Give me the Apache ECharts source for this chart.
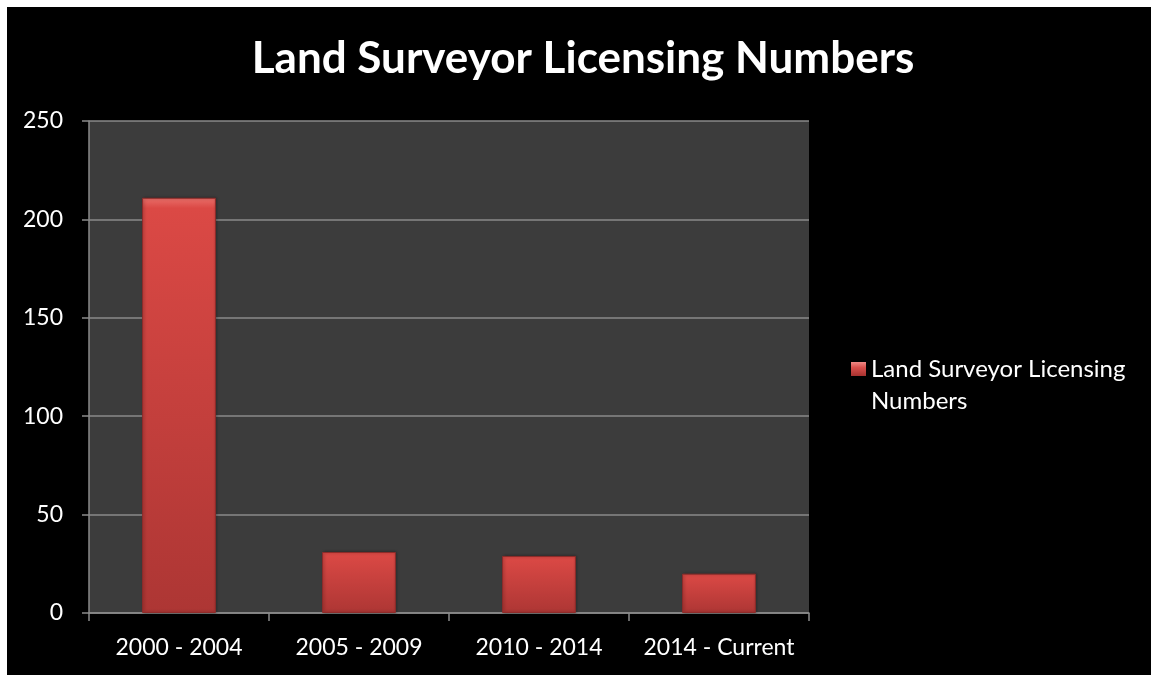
<!DOCTYPE html>
<html>
<head>
<meta charset="utf-8">
<title>Land Surveyor Licensing Numbers</title>
<script src="https://cdn.jsdelivr.net/npm/echarts@6/dist/echarts.min.js"></script>
<style>
  html, body { margin: 0; padding: 0; background: #ffffff; overflow: hidden; }
  #chart { position: absolute; left: 7px; top: 7px; width: 1160px; height: 680px; background: #000000; }
</style>
</head>
<body>
<div id="chart"></div>
<script>
// chart data
var titleText = "Land Surveyor Licensing Numbers";
var seriesName = "Land Surveyor Licensing Numbers";
var categories = ["2000 - 2004", "2005 - 2009", "2010 - 2014", "2014 - Current"];
var licenseCounts = [211, 31, 29, 20];
var yTicks = [0, 50, 100, 150, 200, 250];

var FONT = "Lato, 'Noto Sans', sans-serif";
var GRID_GRAY = "#8a8a8a";

// red bevelled bar look
var barFill = new echarts.graphic.LinearGradient(0, 0, 0, 1, [
  {offset: 0, color: "#ea6f6a"},
  {offset: 0.025, color: "#db4945"},
  {offset: 1, color: "#ad3634"}
]);
var legendFill = new echarts.graphic.LinearGradient(0, 0, 0, 1, [
  {offset: 0, color: "#f08a86"},
  {offset: 0.12, color: "#d9504c"},
  {offset: 0.3, color: "#a83230"},
  {offset: 1, color: "#a83230"}
]);

var chart = echarts.init(document.getElementById("chart"));

var options = {
  backgroundColor: "#000000",
  animation: false,
  textStyle: {fontFamily: FONT},
  title: {
    text: titleText,
    left: 571,
    textAlign: "center",
    top: 25,
    textStyle: {color: "#ffffff", fontFamily: FONT, fontWeight: "bold", fontSize: 44}
  },
  legend: {
    orient: "vertical",
    left: 839,
    top: 341,
    itemWidth: 15,
    itemHeight: 47,
    itemGap: 0,
    // square swatch sitting at the top of a tall item, so it lines up with the first text line
    icon: "path://M0,0L15,0L15,14L0,14Z M0,46L0.01,46",
    data: [{name: seriesName, itemStyle: {color: legendFill, borderWidth: 0}}],
    formatter: function (name) {
      // wrap the last word like the original legend
      return name.replace(/ (\S+)$/, "\n$1");
    },
    textStyle: {
      color: "#ffffff",
      fontFamily: FONT,
      fontSize: 24,
      lineHeight: 32
    }
  },
  grid: {
    left: 82,
    top: 114,
    right: 358,
    bottom: 74,
    show: true,
    backgroundColor: "#3c3c3c",
    borderWidth: 0,
    containLabel: false
  },
  xAxis: {
    type: "category",
    data: categories,
    axisLine: {show: true, lineStyle: {color: GRID_GRAY, width: 1.5}},
    axisTick: {show: true, length: 8, lineStyle: {color: GRID_GRAY, width: 1.5}},
    axisLabel: {color: "#ffffff", fontFamily: FONT, fontSize: 23, margin: 23, interval: 0}
  },
  yAxis: {
    type: "value",
    min: yTicks[0],
    max: yTicks[yTicks.length - 1],
    interval: yTicks[1] - yTicks[0],
    axisLine: {show: true, lineStyle: {color: GRID_GRAY, width: 1.5}},
    axisTick: {show: true, length: 7, lineStyle: {color: GRID_GRAY, width: 1.5}},
    splitLine: {show: true, lineStyle: {color: GRID_GRAY, width: 1.5}},
    axisLabel: {color: "#ffffff", fontFamily: FONT, fontSize: 23, margin: 26}
  },
  series: [{
    name: seriesName,
    type: "bar",
    data: licenseCounts,
    barWidth: "41%",
    itemStyle: {
      color: barFill,
      borderColor: "#8f2b29",
      borderWidth: 1,
      shadowColor: "rgba(0,0,0,0.35)",
      shadowBlur: 3,
      shadowOffsetX: 1
    }
  }]
};

chart.setOption(options, true);
</script>
</body>
</html>
